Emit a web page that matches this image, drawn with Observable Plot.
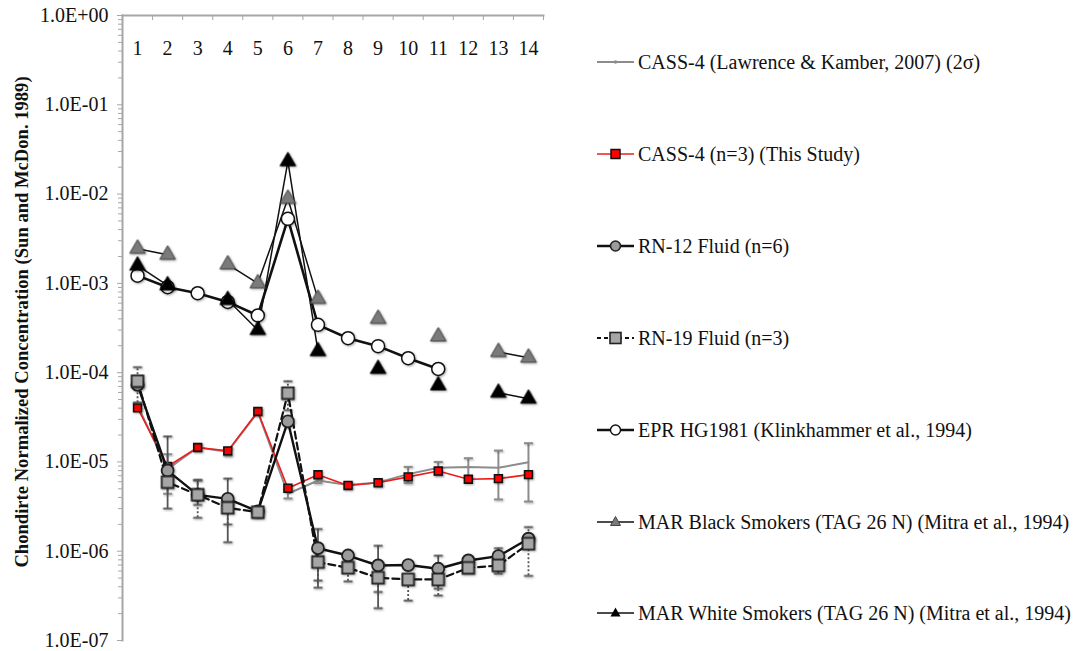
<!DOCTYPE html>
<html>
<head>
<meta charset="utf-8">
<script src="https://cdn.jsdelivr.net/npm/d3@7"></script>
<script src="https://cdn.jsdelivr.net/npm/@observablehq/plot@0.6"></script>
<style>
  body { margin: 0; background: white; font-family: "Liberation Serif", "Times New Roman", serif; }
  #wrap { position: relative; width: 1075px; height: 651px; overflow: hidden; }
  #chart { position: absolute; left: 0; top: 0; }
  .leg { position: absolute; left: 597px; height: 24px; display: flex; align-items: center; font-size: 20px; white-space: nowrap; color: #111; }
  .leg svg { margin-right: 4px; }
  g[aria-label="dot"] { filter: drop-shadow(1px 1.5px 1px rgba(0,0,0,0.35)); }
</style>
</head>
<body>
<div id="wrap"><div id="chart"></div></div>
<script>
// ---- Data (chondrite-normalized concentrations, columns 1..14) ----
const elements = [1,2,3,4,5,6,7,8,9,10,11,12,13,14];

// CASS-4 (Lawrence & Kamber, 2007) with 2 sigma
const cassLK    = [4.3e-5, 8.3e-6, 1.45e-5, 1.3e-5, 3.6e-5, 4.4e-6, 6.2e-6, 5.5e-6, 5.9e-6, 7.3e-6, 8.6e-6, 8.8e-6, 8.6e-6, 9.9e-6];
const cassLKErr = [3e-6, 3.9e-6, 1.0e-6, 1.2e-6, 2e-6, 0.5e-6, 0.4e-6, 0.3e-6, 0.4e-6, 1.5e-6, 1.4e-6, 2.2e-6, 4.8e-6, 6.3e-6];

// CASS-4 (n=3) (This Study)
const cassThis  = [4.04e-5, 8.9e-6, 1.45e-5, 1.33e-5, 3.67e-5, 5.08e-6, 7.18e-6, 5.45e-6, 5.84e-6, 6.8e-6, 7.9e-6, 6.4e-6, 6.5e-6, 7.2e-6];

// RN-12 Fluid (n=6)
const rn12   = [7.3e-5, 8.0e-6, 4.28e-6, 3.86e-6, 2.79e-6, 2.84e-5, 1.08e-6, 8.95e-7, 6.92e-7, 7.0e-7, 6.36e-7, 7.87e-7, 8.8e-7, 1.38e-6];
const rn12Lo = [null, 3.0e-6, 3.3e-6, 1.26e-6, null, null, 3.9e-7, null, 2.3e-7, null, 3.8e-7, null, 6.8e-7, null];
const rn12Hi = [null, 1.93e-5, 6.3e-6, 6.5e-6, null, null, 1.77e-6, null, 1.15e-6, null, 8.9e-7, null, 1.08e-6, null];

// RN-19 Fluid (n=3)
const rn19   = [8.03e-5, 5.94e-6, 4.28e-6, 3.06e-6, 2.74e-6, 5.89e-5, 7.55e-7, 6.52e-7, 5.04e-7, 4.83e-7, 4.83e-7, 6.5e-7, 6.92e-7, 1.21e-6];
const rn19Lo = [4.6e-5, null, 2.37e-6, 2.0e-6, null, 3.8e-5, 4.7e-7, 4.6e-7, 3.5e-7, 2.8e-7, 3.2e-7, null, 5.6e-7, 5.3e-7];
const rn19Hi = [1.15e-4, null, 6.2e-6, 4.1e-6, null, 8.0e-5, 1.04e-6, 8.4e-7, 6.6e-7, 6.9e-7, 6.5e-7, null, 8.2e-7, 1.86e-6];

// EPR HG1981 (Klinkhammer et al., 1994)
const epr      = [1.22e-3, 9.06e-4, 7.76e-4, 6.2e-4, 4.37e-4, 5.28e-3, 3.43e-4, 2.43e-4, 1.98e-4, 1.45e-4, 1.10e-4, null, null, null];
// MAR Black Smokers (TAG 26 N) (Mitra et al., 1994)
const marBlack = [2.44e-3, 2.09e-3, null, 1.63e-3, 1.0e-3, 8.85e-3, 6.7e-4, null, 4.0e-4, null, 2.54e-4, null, 1.7e-4, 1.47e-4];
// MAR White Smokers (TAG 26 N) (Mitra et al., 1994)
const marWhite = [1.58e-3, 9.5e-4, null, 6.5e-4, 3.0e-4, 2.33e-2, 1.74e-4, null, 1.1e-4, null, 7.2e-5, null, 5.95e-5, 5.1e-5];

const yLabel = "Chondirte Normalized Concentration (Sun and McDon. 1989)";
const legendLabels = [
  "CASS-4 (Lawrence & Kamber, 2007) (2σ)",
  "CASS-4 (n=3) (This Study)",
  "RN-12 Fluid (n=6)",
  "RN-19 Fluid (n=3)",
  "EPR HG1981 (Klinkhammer et al., 1994)",
  "MAR Black Smokers (TAG 26 N) (Mitra et al., 1994)",
  "MAR White Smokers (TAG 26 N) (Mitra et al., 1994)"
];

// ---- helpers ----
const rows = (vals) => elements.map((e, i) => ({x: e, y: vals[i] == null ? NaN : vals[i]}));
const errRows = (lo, hi) => elements.map((e, i) => ({x: e, lo: lo[i], hi: hi[i]})).filter(d => d.lo != null && d.hi != null);
const lkErrRows = elements.map((e, i) => ({x: e, lo: cassLK[i] - cassLKErr[i], hi: cassLK[i] + cassLKErr[i]}));

const capSymbol = { draw(ctx, size) { const w = 4.5; ctx.moveTo(-w, 0); ctx.lineTo(w, 0); } };

const majorTicks = d3.range(-7, 1).map(k => Math.pow(10, k));
const minorTicks = d3.range(-7, 0).flatMap(k => d3.range(2, 10).map(m => m * Math.pow(10, k)));
const fmtE = d => { const e = Math.round(Math.log10(d)); return "1.0E" + (e < 0 ? "-" : "+") + String(Math.abs(e)).padStart(2, "0"); };

function errMarks(data, color, dash, width) {
  return [
    Plot.ruleX(data, {x: "x", y1: "lo", y2: "hi", stroke: color, strokeWidth: width, strokeDasharray: dash}),
    Plot.dot(data, {x: "x", y: "lo", symbol: capSymbol, r: 4, stroke: color, strokeWidth: width, fill: "none"}),
    Plot.dot(data, {x: "x", y: "hi", symbol: capSymbol, r: 4, stroke: color, strokeWidth: width, fill: "none"})
  ];
}

const chart = Plot.plot({
  width: 560,
  height: 651,
  marginLeft: 122,
  marginRight: 17,
  marginTop: 15,
  marginBottom: 11,
  style: {fontFamily: "'Liberation Serif', 'Times New Roman', serif", fontSize: "20px", background: "white", overflow: "visible"},
  x: {type: "linear", domain: [0.5, 14.5]},
  y: {type: "log", domain: [1e-7, 1]},
  marks: [
    Plot.frame({anchor: "left", stroke: "#a6a6a6", strokeWidth: 2}),
    Plot.frame({anchor: "top", stroke: "#a6a6a6", strokeWidth: 2}),
    Plot.axisY({ticks: minorTicks, tickSize: 4, tickFormat: () => "", stroke: "#a6a6a6"}),
    Plot.axisY({ticks: majorTicks, tickSize: 5, tickPadding: 9, tickFormat: fmtE, stroke: "#a6a6a6", fill: "#111", fontSize: 20, label: null}),
    Plot.axisX({anchor: "top", ticks: d3.range(0.5, 15, 1), tickSize: -4, tickFormat: () => "", stroke: "#a6a6a6", label: null}),
    Plot.text(elements, {x: d => d, text: d => String(d), frameAnchor: "top", dy: 25, fontSize: 20, fill: "#111"}),
    Plot.text([yLabel], {frameAnchor: "left", dx: -100, dy: -6, rotate: -90, textAnchor: "middle", fontWeight: "bold", fontSize: 18.6, fill: "#111"}),

    // CASS-4 Lawrence & Kamber
    ...errMarks(lkErrRows, "#8c8c8c", null, 2),
    Plot.line(rows(cassLK), {x: "x", y: "y", stroke: "#8c8c8c", strokeWidth: 2}),
    // CASS-4 This study
    Plot.line(rows(cassThis), {x: "x", y: "y", stroke: "#ee1c1c", strokeWidth: 1.6}),
    Plot.dot(rows(cassThis), {x: "x", y: "y", symbol: "square", r: 4.4, fill: "#ff0000", stroke: "#111", strokeWidth: 1.6}),

    // RN-12 / RN-19 error bars
    ...errMarks(errRows(rn12Lo, rn12Hi), "#555", null, 1.8),
    ...errMarks(errRows(rn19Lo, rn19Hi), "#555", "2,2", 1.8),
    // RN-12 and RN-19 lines
    Plot.line(rows(rn12), {x: "x", y: "y", stroke: "#111", strokeWidth: 2.4}),
    Plot.line(rows(rn19), {x: "x", y: "y", stroke: "#111", strokeWidth: 2.2, strokeDasharray: "7,4"}),
    Plot.dot(rows(rn12), {x: "x", y: "y", symbol: "circle", r: 6, fill: "#9b9b9b", stroke: "#222", strokeWidth: 1.8}),
    Plot.dot(rows(rn19), {x: "x", y: "y", symbol: "square", r: 6.6, fill: "#a6a6a6", stroke: "#222", strokeWidth: 1.8}),

    // Literature fluids
    Plot.line(rows(epr), {x: "x", y: "y", stroke: "#111", strokeWidth: 2.6}),
    Plot.line(rows(marBlack), {x: "x", y: "y", stroke: "#111", strokeWidth: 1.5}),
    Plot.line(rows(marWhite), {x: "x", y: "y", stroke: "#111", strokeWidth: 1.5}),
    Plot.dot(rows(epr), {x: "x", y: "y", symbol: "circle", r: 6.5, fill: "white", stroke: "#111", strokeWidth: 1.5}),
    Plot.dot(rows(marBlack), {x: "x", y: "y", symbol: "triangle", r: 5.8, fill: "#7a7a7a", stroke: "#444", strokeWidth: 1}),
    Plot.dot(rows(marWhite), {x: "x", y: "y", symbol: "triangle", r: 5.8, fill: "#000", stroke: "#000", strokeWidth: 1})
  ]
});
document.getElementById("chart").appendChild(chart);

// ---- Legend (right side) ----
const swatches = [
  `<line x1="0" y1="10" x2="37" y2="10" stroke="#8c8c8c" stroke-width="2"/><circle cx="18.5" cy="10" r="1.8" fill="#8c8c8c"/>`,
  `<line x1="0" y1="10" x2="37" y2="10" stroke="#ee1c1c" stroke-width="1.5"/><rect x="14" y="5.5" width="9" height="9" fill="#ff0000" stroke="#111" stroke-width="1.5"/>`,
  `<line x1="0" y1="10" x2="37" y2="10" stroke="#111" stroke-width="2.4"/><circle cx="18.5" cy="10" r="5" fill="#9b9b9b" stroke="#222" stroke-width="1.6"/>`,
  `<line x1="0" y1="10" x2="37" y2="10" stroke="#111" stroke-width="2" stroke-dasharray="4,3"/><rect x="13" y="4.5" width="11" height="11" fill="#a6a6a6" stroke="#222" stroke-width="1.6"/>`,
  `<line x1="0" y1="10" x2="37" y2="10" stroke="#111" stroke-width="2.6"/><circle cx="18.5" cy="10" r="5" fill="white" stroke="#111" stroke-width="1.4"/>`,
  `<line x1="0" y1="10" x2="37" y2="10" stroke="#111" stroke-width="1.5"/><path d="M18.5,4.5 L23.5,13.5 L13.5,13.5 Z" fill="#7a7a7a" stroke="#444" stroke-width="1"/>`,
  `<line x1="0" y1="10" x2="37" y2="10" stroke="#111" stroke-width="1.5"/><path d="M18.5,4.5 L23.5,13.5 L13.5,13.5 Z" fill="#000"/>`
];
const legendTop = [62, 154, 246, 338, 430, 522, 613];
const wrap = document.getElementById("wrap");
legendLabels.forEach((lab, i) => {
  const div = document.createElement("div");
  div.className = "leg";
  div.style.top = (legendTop[i] - 12) + "px";
  div.innerHTML = `<svg width="37" height="20" viewBox="0 0 37 20">${swatches[i]}</svg>`;
  const span = document.createElement("span");
  span.textContent = lab;
  div.appendChild(span);
  wrap.appendChild(div);
});
</script>
</body>
</html>
